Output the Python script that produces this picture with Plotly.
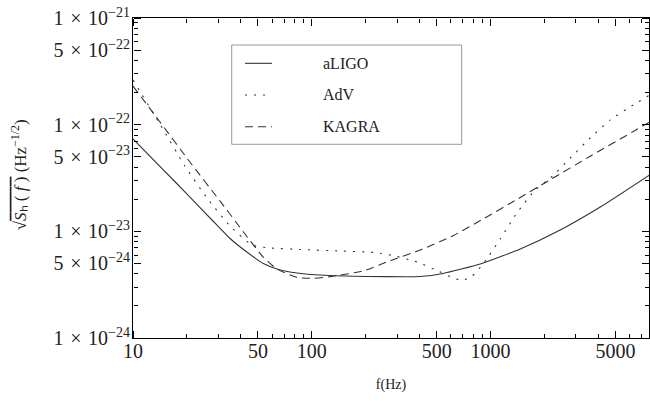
import plotly.graph_objects as go

# ---- data ----
freq_aligo = [10, 14.5, 20, 28, 34.9, 43.3, 53.6, 63.9, 82.7, 126.5, 263, 404, 543, 875, 1465, 2452, 4105, 7730]
asd_aligo = [7.34e-23, 3.9e-23, 2.25e-23, 1.25e-23, 8.57e-24, 6.40e-24, 4.99e-24, 4.44e-24, 4.07e-24, 3.85e-24,
             3.76e-24, 3.77e-24, 4.03e-24, 4.94e-24, 6.83e-24, 1.029e-23, 1.69e-23, 3.37e-23]

freq_adv = [10, 14.16, 19.5, 25.95, 34.9, 46.3, 58.4, 86.0, 144, 226, 292.6, 387, 502.6, 609.8, 693.5, 788.9,
            913, 1132, 1403, 1776, 2158, 2790, 3606, 4670, 6281, 7690]
asd_adv = [2.62e-22, 1.01e-22, 4.10e-23, 2.05e-23, 1.12e-23, 7.45e-24, 6.98e-24, 6.76e-24, 6.54e-24, 6.33e-24,
           5.87e-24, 5.16e-24, 4.29e-24, 3.69e-24, 3.46e-24, 3.81e-24, 5.01e-24, 8.48e-24, 1.486e-23, 2.44e-23,
           3.16e-23, 4.87e-23, 7.50e-23, 1.11e-22, 1.53e-22, 1.88e-22]

freq_kagra = [10, 14.16, 20.8, 30.7, 42.3, 53.4, 63.9, 82.6, 101.7, 126.5, 193.6, 263, 404, 620, 909, 1403,
              2158, 3606, 6281, 7690]
asd_kagra = [2.30e-22, 1.06e-22, 4.47e-23, 1.92e-23, 9.44e-24, 5.75e-24, 4.43e-24, 3.69e-24, 3.63e-24, 3.76e-24,
             4.25e-24, 5.16e-24, 6.68e-24, 9.14e-24, 1.306e-23, 1.99e-23, 3.05e-23, 5.06e-23, 8.63e-23, 1.05e-22]

series_names = ["aLIGO", "AdV", "KAGRA"]
series_dash = ["solid", "2px,7px", "8px,5px"]

x_tickvals = [10, 50, 100, 500, 1000, 5000]
x_ticktext = ["10", "50", "100", "500", "1000", "5000"]
y_tickvals = [1e-24, 5e-24, 1e-23, 5e-23, 1e-22, 5e-22, 1e-21]
y_mant = ["1", "5", "1", "5", "1", "5", "1"]
y_exp = ["−24", "−24", "−23", "−23", "−22", "−22", "−21"]
SP = "\u2004"
y_ticktext = [f"{m}{SP}×{SP}10<sup>{e}</sup>" for m, e in zip(y_mant, y_exp)]

x_minor = [m * 10 ** e for e in (1, 2, 3) for m in (2, 3, 4, 6, 7, 8, 9)]
y_minor = [m * 10.0 ** e for e in (-24, -23, -22) for m in (2, 3, 4, 6, 7, 8, 9)]

FONT = "Liberation Serif"
LINE_COLOR = "#333333"
X_RANGE = [1, 3.886]
Y_RANGE = [-24, -21]
MAJOR_LEN, MINOR_LEN = 7, 4

fig = go.Figure()
for name, fx, fy, dash in zip(series_names, [freq_aligo, freq_adv, freq_kagra],
                              [asd_aligo, asd_adv, asd_kagra], series_dash):
    fig.add_trace(go.Scatter(x=fx, y=fy, mode="lines", name=name, showlegend=False,
                             line=dict(color=LINE_COLOR, width=1.1, dash=dash, shape="spline", smoothing=0.5)))

# transparent carrier traces so the tick-only overlay axes get drawn
for k in (2, 3, 4, 5):
    fig.add_trace(go.Scatter(x=freq_aligo, y=asd_aligo, xaxis=f"x{k}", yaxis=f"y{k}", mode="lines",
                             line=dict(width=0), opacity=0, hoverinfo="skip", showlegend=False))

# manual legend box (paper coordinates)
lx0, lx1, ly0, ly1 = 0.1913, 0.637, 0.6053, 0.9156
fig.add_shape(type="rect", xref="paper", yref="paper", x0=lx0, x1=lx1, y0=ly0, y1=ly1,
              line=dict(color="#999999", width=1), fillcolor="white", layer="above")
row_y = [0.8584, 0.7594, 0.6603]
for name, dash, ry in zip(series_names, series_dash, row_y):
    fig.add_shape(type="line", xref="paper", yref="paper", x0=0.2171, x1=0.2694, y0=ry, y1=ry,
                  line=dict(color=LINE_COLOR, width=1.1, dash=dash), layer="above")
    fig.add_annotation(xref="paper", yref="paper", x=0.3638, y=ry, text=name, showarrow=False,
                       xanchor="left", yanchor="middle", font=dict(family=FONT, size=16, color="#222"))

# y-axis title
fig.add_annotation(xref="paper", yref="paper", x=-0.222, y=0.51, textangle=-90, showarrow=False,
                   xanchor="center", yanchor="middle",
                   text="√<span style='text-decoration:overline'><i>S</i>ₕ ( <i>f</i> )</span> (Hz<sup>−1/2</sup>)",
                   font=dict(family=FONT, size=17, color="#222"))

main_common = dict(type="log", showline=True, linecolor="black", linewidth=1, mirror=True, ticks="",
                   showgrid=False, zeroline=False, tickmode="array",
                   tickfont=dict(family=FONT, size=20, color="#222"))


def tick_axis(rng, vals, length, overlay, side, pos):
    # tick-only axis placed on the opposite edge so that its outside ticks point into the frame
    return dict(type="log", range=rng, tickmode="array", tickvals=vals, ticks="outside", ticklen=length,
                tickwidth=1, tickcolor="black", showticklabels=False, showline=False, showgrid=False,
                zeroline=False, overlaying=overlay, side=side, anchor="free", position=pos)


fig.update_layout(
    width=650, height=401,
    margin=dict(l=133, r=1, t=18, b=63),
    paper_bgcolor="white", plot_bgcolor="white",
    xaxis=dict(range=X_RANGE, tickvals=x_tickvals, ticktext=x_ticktext, ticklabelstandoff=-5,
               title=dict(text="f(Hz)", font=dict(family=FONT, size=14, color="#222"), standoff=18),
               **main_common),
    yaxis=dict(range=Y_RANGE, tickvals=y_tickvals, ticktext=y_ticktext, ticklabelstandoff=-2,
               **main_common),
    # bottom edge (ticks pointing up)
    xaxis2=tick_axis(X_RANGE, x_tickvals, MAJOR_LEN, "x", "top", 0),
    xaxis3=tick_axis(X_RANGE, x_minor, MINOR_LEN, "x", "top", 0),
    # top edge (ticks pointing down)
    xaxis4=tick_axis(X_RANGE, x_tickvals, MAJOR_LEN, "x", "bottom", 1),
    xaxis5=tick_axis(X_RANGE, x_minor, MINOR_LEN, "x", "bottom", 1),
    # left edge (ticks pointing right)
    yaxis2=tick_axis(Y_RANGE, y_tickvals, MAJOR_LEN, "y", "right", 0),
    yaxis3=tick_axis(Y_RANGE, y_minor, MINOR_LEN, "y", "right", 0),
    # right edge (ticks pointing left)
    yaxis4=tick_axis(Y_RANGE, y_tickvals, MAJOR_LEN, "y", "left", 1),
    yaxis5=tick_axis(Y_RANGE, y_minor, MINOR_LEN, "y", "left", 1),
    showlegend=False,
)

fig.write_html("out.html")
